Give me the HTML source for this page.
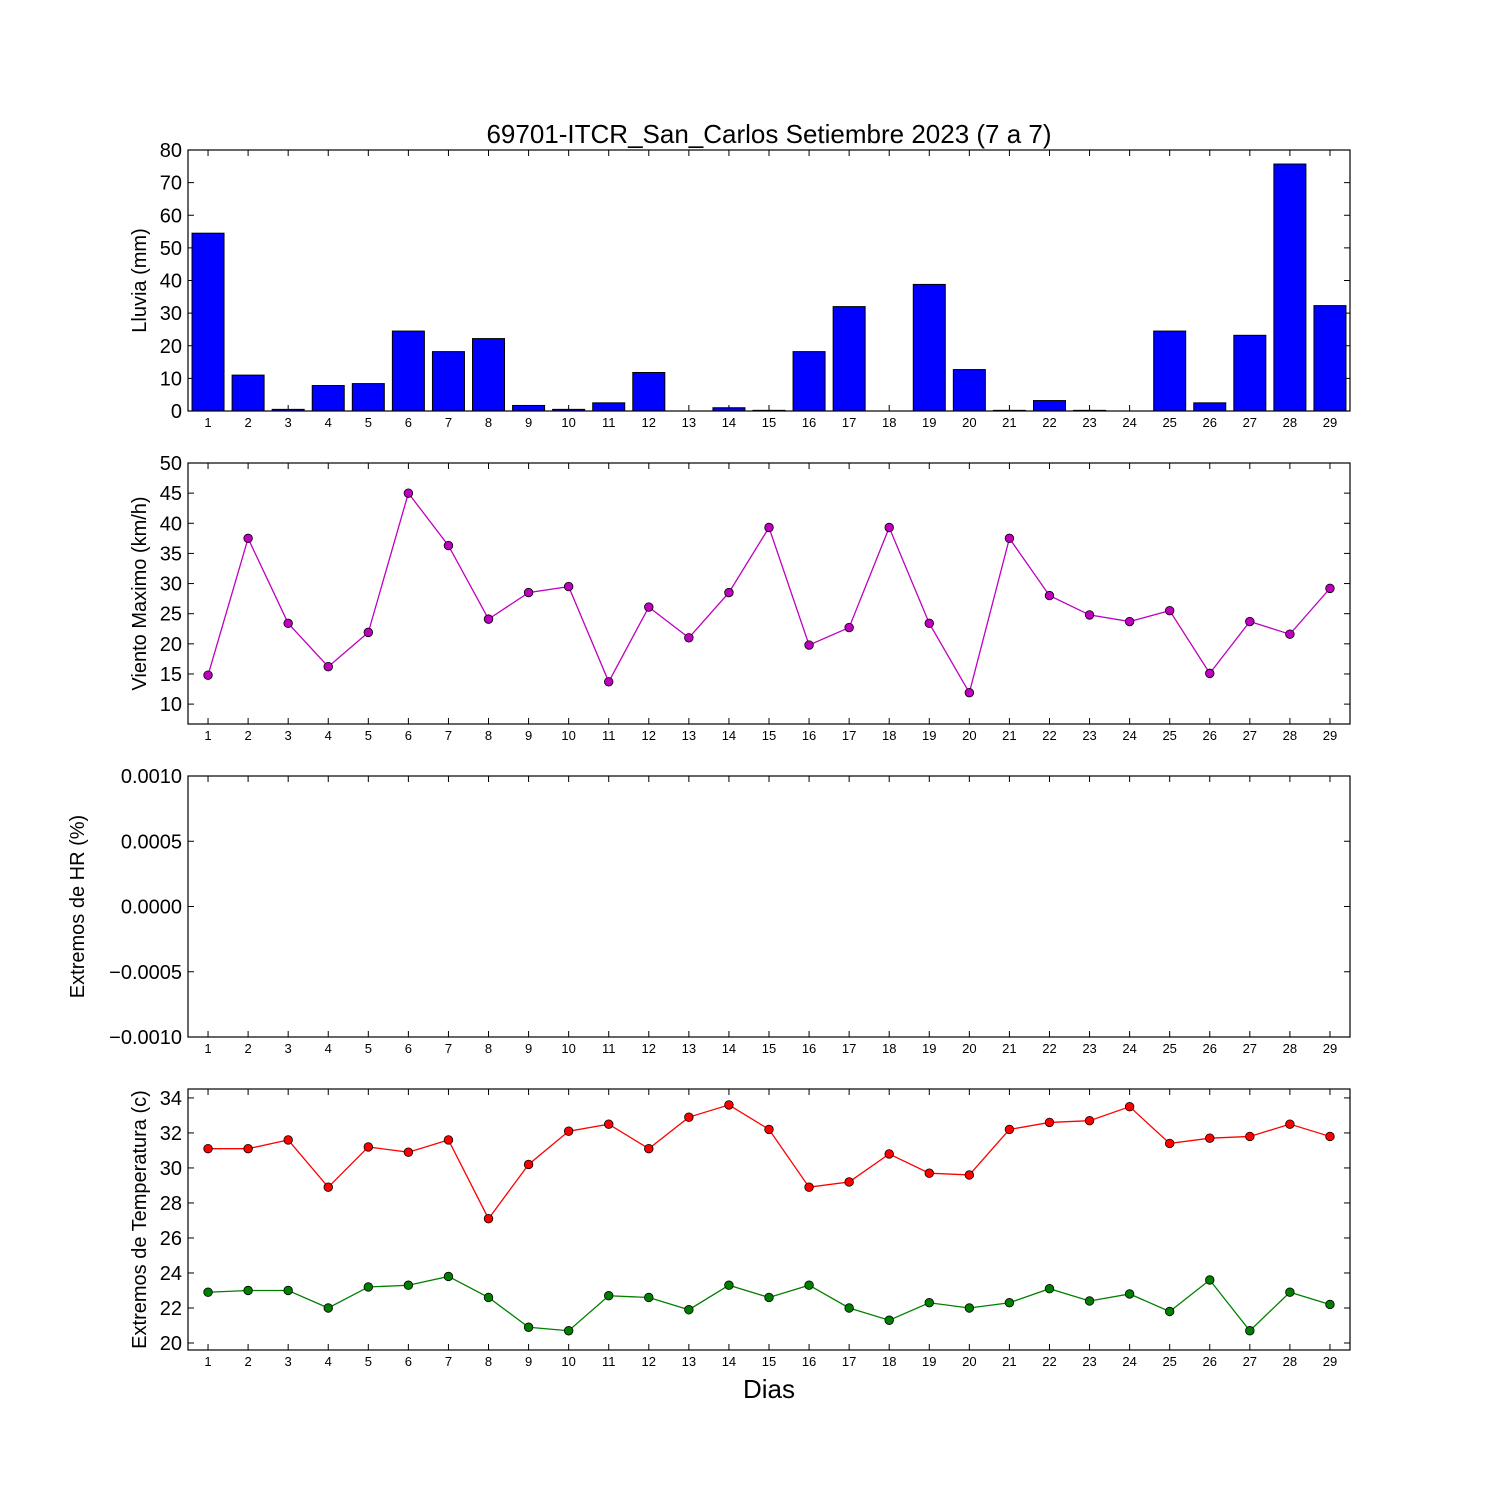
<!DOCTYPE html>
<html><head><meta charset="utf-8"><style>
html,body{margin:0;padding:0;background:#fff}
svg{display:block;font-family:"Liberation Sans","DejaVu Sans",sans-serif}
</style></head><body>
<svg id="chart" width="1500" height="1500" viewBox="0 0 1500 1500" xmlns="http://www.w3.org/2000/svg">
<rect width="1500" height="1500" fill="#fff"/>
<text x="769" y="143" font-size="26" text-anchor="middle">69701-ITCR_San_Carlos Setiembre 2023  (7 a 7)</text>
<text x="769" y="1398" font-size="26" text-anchor="middle">Dias</text>
<g id="plots"></g>
</svg>
<script>
const days = [1,2,3,4,5,6,7,8,9,10,11,12,13,14,15,16,17,18,19,20,21,22,23,24,25,26,27,28,29];
const rain = [54.5,11,0.5,7.8,8.4,24.5,18.2,22.2,1.7,0.5,2.5,11.8,0,1,0.2,18.2,32,0,38.8,12.7,0.2,3.2,0.2,0,24.5,2.5,23.2,75.7,32.3];
const wind = [14.8,37.5,23.4,16.2,21.9,45,36.3,24.1,28.5,29.5,13.7,26.1,21,28.5,39.3,19.8,22.7,39.3,23.4,11.9,37.5,28,24.8,23.7,25.5,15.1,23.7,21.6,29.2];
const tmax = [31.1,31.1,31.6,28.9,31.2,30.9,31.6,27.1,30.2,32.1,32.5,31.1,32.9,33.6,32.2,28.9,29.2,30.8,29.7,29.6,32.2,32.6,32.7,33.5,31.4,31.7,31.8,32.5,31.8];
const tmin = [22.9,23,23,22,23.2,23.3,23.8,22.6,20.9,20.7,22.7,22.6,21.9,23.3,22.6,23.3,22,21.3,22.3,22,22.3,23.1,22.4,22.8,21.8,23.6,20.7,22.9,22.2];
const rainTicks = [0,10,20,30,40,50,60,70,80];
const windTicks = [10,15,20,25,30,35,40,45,50];
const hrTicks = [-0.001,-0.0005,0,0.0005,0.001];
const hrTickLabels = ["\u22120.0010","\u22120.0005","0.0000","0.0005","0.0010"];
const tempTicks = [20,22,24,26,28,30,32,34];

const NS="http://www.w3.org/2000/svg";
const root=document.getElementById('plots');
const X0=188,X1=1350;
function xs(d){return X0+(d-0.5)/29*(X1-X0);}
function mk(tag,attrs,parent){const e=document.createElementNS(NS,tag);for(const k in attrs)e.setAttribute(k,attrs[k]);(parent||root).appendChild(e);return e;}

function panel(name,top,bottom,ymin,ymax,ticks,labels,ytitle){
  const g=mk('g',{});
  
  
  const ys=v=>bottom-(v-ymin)/(ymax-ymin)*(bottom-top);
  ticks.forEach((t,i)=>{
    const y=ys(t);
    mk('line',{x1:X0,x2:X0+6,y1:y,y2:y,stroke:'#000'},g);
    mk('line',{x1:X1,x2:X1-6,y1:y,y2:y,stroke:'#000'},g);
    const tx=mk('text',{x:X0-6,y:y+7,'font-size':20,'text-anchor':'end'},g);
    
    
    tx.textContent=labels?labels[i]:String(t);
  });
  days.forEach(d=>{
    const x=xs(d);
    mk('line',{x1:x,x2:x,y1:bottom,y2:bottom-6,stroke:'#000'},g);
    mk('line',{x1:x,x2:x,y1:top,y2:top+6,stroke:'#000'},g);
    const tx=mk('text',{x:x,y:bottom+16,'font-size':13,'text-anchor':'middle'},g);
    
    
    tx.textContent=String(d);
  });
  const cy=(top+bottom)/2;
  const tt=mk('text',{x:0,y:0,'font-size':20,'text-anchor':'middle',transform:`translate(${ytitle[1]},${cy}) rotate(-90)`},g);
  
  
  tt.textContent=ytitle[0];
  return {g,ys,top,bottom};
}
function frame(p){
  const r=mk('rect',{x:X0,y:p.top,width:X1-X0,height:p.bottom-p.top,fill:'none',stroke:'#000','stroke-width':1.2});
  
  
}
function series(p,vals,color,name){
  const pts=days.map((d,i)=>xs(d)+','+p.ys(vals[i])).join(' ');
  const l=mk('polyline',{points:pts,fill:'none',stroke:color,'stroke-width':1.3},p.g);
  
  
  days.forEach((d,i)=>{
    const c=mk('circle',{cx:xs(d),cy:p.ys(vals[i]),r:4.3,fill:color,stroke:'#000','stroke-width':0.8},p.g);
    
    
  });
}

// Rain
const p1=panel('rain-panel',150,411,0,80,rainTicks,null,['Lluvia (mm)',146]);
days.forEach((d,i)=>{
  const y=p1.ys(rain[i]);
  const b=mk('rect',{x:xs(d)-16,y:y,width:32,height:p1.ys(0)-y,fill:'#0000ff',stroke:'#000','stroke-width':1},p1.g);
  
  
});
frame(p1);
// Wind
const p2=panel('wind-panel',463,724,6.7,50,windTicks,null,['Viento Maximo (km/h)',146]);
series(p2,wind,'#bf00bf','wind');
frame(p2);
// HR
const p3=panel('hr-panel',776,1037,-0.001,0.001,hrTicks,hrTickLabels,['Extremos de HR (%)',84]);
frame(p3);
// Temp
const p4=panel('temp-panel',1089,1350,19.6,34.51,tempTicks,null,['Extremos de Temperatura (c)',146]);
series(p4,tmax,'#ff0000','tmax');
series(p4,tmin,'#008000','tmin');
frame(p4);
</script>
</body></html>
